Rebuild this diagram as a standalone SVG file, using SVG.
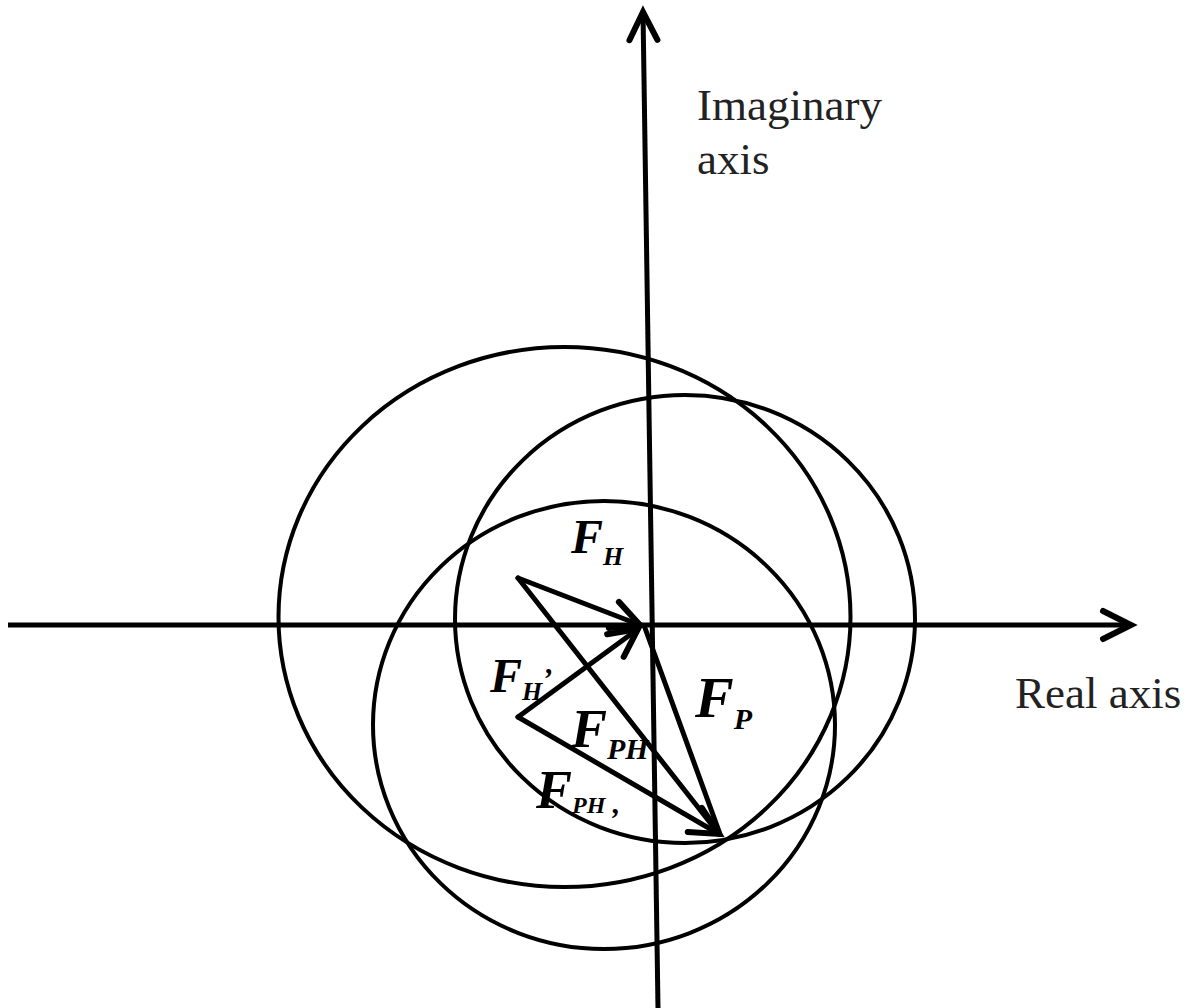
<svg xmlns="http://www.w3.org/2000/svg" width="1196" height="1008" viewBox="0 0 1196 1008">
<style>
.c{fill:none;stroke:#000;stroke-width:4}
.ax{fill:none;stroke:#000;stroke-width:5}
.v{fill:none;stroke:#000;stroke-width:5;stroke-linecap:round}
.lab{font-family:"Liberation Serif",serif;font-size:45px;fill:#222}
.f{font-family:"Liberation Serif",serif;font-weight:bold;font-style:italic;fill:#000}
</style>
<defs>
<marker id="ah" markerUnits="userSpaceOnUse" markerWidth="60" markerHeight="60" viewBox="-40 -30 60 60" refX="0" refY="0" orient="auto" overflow="visible">
<path d="M-28,-14 L0,0 L-28,14" fill="none" stroke="#000" stroke-width="6" stroke-linejoin="miter" stroke-linecap="round"/>
</marker>
</defs>
<rect width="1196" height="1008" fill="#fff"/>
<g id="circles">
<ellipse id="circle-large" class="c" cx="564.5" cy="617" rx="286" ry="270"/>
<ellipse id="circle-right" class="c" cx="685" cy="619" rx="230" ry="224"/>
<ellipse id="circle-bottom" class="c" cx="604" cy="725" rx="231" ry="224"/>
</g>
<g id="axes">
<line id="real-axis" class="ax" x1="8" y1="625" x2="1131" y2="625" marker-end="url(#ah)"/>
<line id="imag-axis" class="ax" x1="658" y1="1008" x2="643" y2="12" marker-end="url(#ah)"/>
</g>
<g id="connectors">
<line id="FH" class="v" x1="518" y1="578" x2="640" y2="625" marker-end="url(#ah)"/>
<line id="FH2" class="v" x1="518" y1="717" x2="638" y2="629" marker-end="url(#ah)"/>
<line id="FPH" class="v" x1="518" y1="578" x2="719" y2="834"/>
<line id="FPH2" class="v" x1="518" y1="717" x2="719" y2="834" marker-end="url(#ah)"/>
<line id="FP" class="v" x1="645" y1="628" x2="720" y2="834"/>
</g>
<g id="labels">
<text class="lab" x="697" y="120">Imaginary</text>
<text class="lab" x="697" y="174">axis</text>
<text class="lab" x="1015" y="708">Real axis</text>
<text class="f" x="571" y="553" font-size="48">F<tspan font-size="26" dy="12">H</tspan></text>
<text class="f" x="490" y="692" font-size="48">F<tspan font-size="26" dy="8">H</tspan><tspan font-size="30" dy="-12">’</tspan></text>
<text class="f" x="695" y="717" font-size="58">F<tspan font-size="30" dy="12">P</tspan></text>
<text class="f" x="571" y="747" font-size="54">F<tspan font-size="30" dy="12">PH</tspan></text>
<text class="f" x="536" y="808" font-size="54">F<tspan font-size="24" dy="5">PH</tspan><tspan font-size="30" dy="0"> ,</tspan></text>
</g>
</svg>
